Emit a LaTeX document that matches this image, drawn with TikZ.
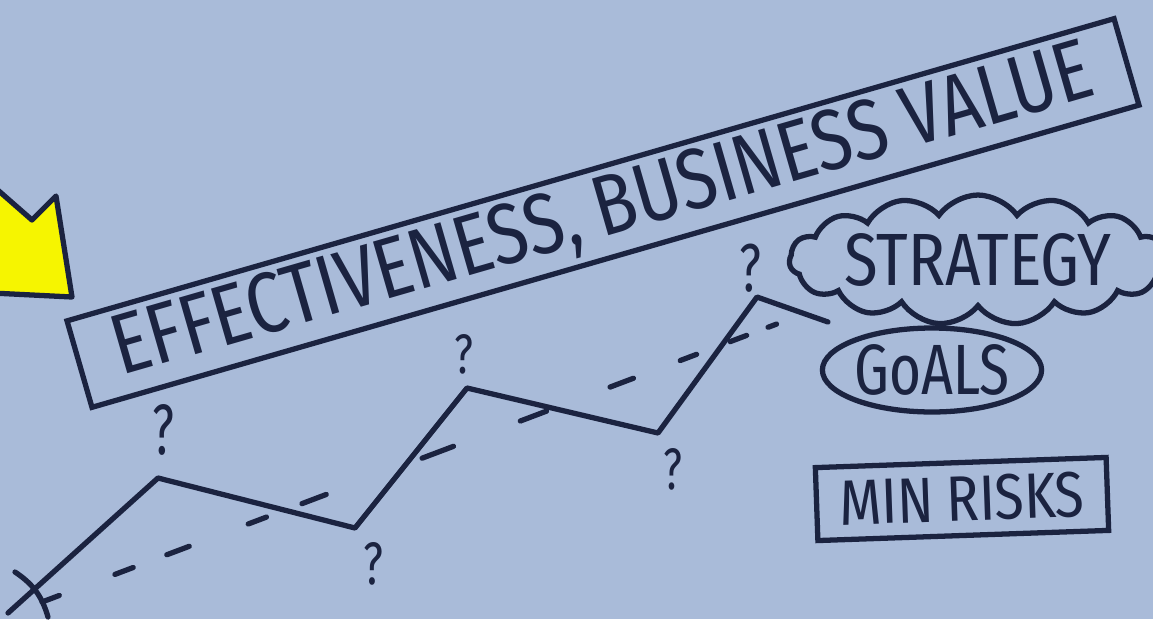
\documentclass[tikz,border=0pt]{standalone}
\usepackage{fontspec}
\IfFontExistsTF{Fira Sans Condensed}{\setmainfont{Fira Sans Condensed}}{\setmainfont{Fira Sans}}
\usetikzlibrary{shapes.symbols,shapes.geometric}
\definecolor{board}{RGB}{169,187,217}
\definecolor{ink}{RGB}{27,35,64}
\definecolor{marker}{RGB}{246,245,0}
\begin{document}
\begin{tikzpicture}[x=0.02cm,y=-0.02cm,
  inkline/.style={draw=ink,line width=3pt,line cap=round,line join=round},
  boxed/.style={draw=ink,line width=3pt,inner sep=0pt,text=ink},
  qmark/.style={text=ink,inner sep=0pt}]
\fill[board] (0,0) rectangle (1153,619);
\path[use as bounding box] (0,0) rectangle (1153,619);
\clip (0,0) rectangle (1153,619);

% yellow arrow
\filldraw[fill=marker,draw=ink,line width=3pt,line join=round] (-8,185) -- (32,220) -- (56,196) -- (72,297) -- (-8,293);

% banner
\node[boxed,rotate=16.1,minimum width=21.8cm,minimum height=1.8cm] (banner) at (603,213)
  {\resizebox{20.3cm}{1.2cm}{EFFECTIVENESS, BUSINESS VALUE}};

% cloud, goals, risks
\node[boxed,cloud,cloud puffs=15,cloud puff arc=110,cloud ignores aspect,minimum width=6.9cm,minimum height=2.6cm] (strategy) at (978,260)
  {\resizebox{5.34cm}{1.04cm}{STRATEGY}};
\node[boxed,ellipse,minimum width=4.3cm,minimum height=1.68cm] (goals) at (932,370)
  {\resizebox{3.1cm}{1.0cm}{GoALS}};
\node[boxed,rotate=2,minimum width=5.82cm,minimum height=1.46cm] (risks) at (962,499)
  {\resizebox{4.9cm}{0.9cm}{MIN RISKS}};

% zigzag
\coordinate (z0) at (8,613);
\coordinate (z1) at (158,478);
\coordinate (z2) at (355,528);
\coordinate (z3) at (467,388);
\coordinate (z4) at (658,433);
\coordinate (z5) at (757,297);
\coordinate (z6) at (828,322);
\draw[inkline] (z0) -- (z1) -- (z2) -- (z3) -- (z4) -- (z5) -- (z6);
\coordinate (c1) at (15,572);
\coordinate (c2) at (48,617);
\draw[inkline] (c1) to[bend left=20] (c2);

% dashed trend
\coordinate (t0) at (42,602);
\coordinate (t1) at (790,319);
\draw[inkline,dash pattern=on 0.37cm off 1.19cm on 0.39cm off 0.72cm on 0.48cm off 1.26cm on 0.39cm off 0.76cm on 0.52cm off 2.05cm on 0.67cm off 1.43cm on 0.56cm off 1.36cm on 0.50cm off 1.00cm on 0.35cm off 0.72cm on 0.35cm off 0.46cm on 0.18cm off 5cm] (t0) -- (t1);

% question marks
\node[qmark] (q1) at (163,430) {\resizebox{0.44cm}{1.0cm}{?}};
\node[qmark] (q2) at (373,564) {\resizebox{0.4cm}{0.84cm}{?}};
\node[qmark] (q3) at (464,354) {\resizebox{0.38cm}{0.78cm}{?}};
\node[qmark] (q4) at (673,469) {\resizebox{0.38cm}{0.82cm}{?}};
\node[qmark] (q5) at (750,268) {\resizebox{0.44cm}{0.95cm}{?}};
\end{tikzpicture}
\end{document}
